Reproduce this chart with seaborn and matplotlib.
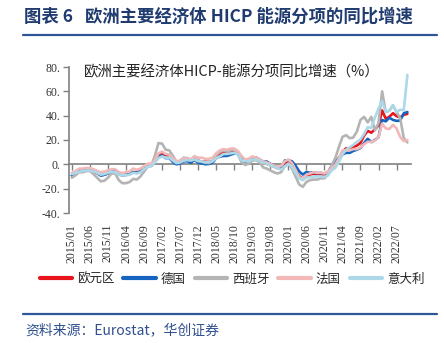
import numpy as np
import pandas as pd
import matplotlib
matplotlib.use("Agg")
import matplotlib.pyplot as plt
from matplotlib.lines import Line2D
import seaborn as sns

# ---------------- data ----------------
months = [f"{y}/{m:02d}" for y in range(2015, 2023) for m in range(1, 13)][:94]  # 2015/01 .. 2022/10
tick_labels = months[::5]

series_names = ["欧元区", "德国", "西班牙", "法国", "意大利"]

euro_area = [
    -9.3, -7.9, -5.8, -5.8, -5.1, -5.1, -6.1, -7.2, -8.9, -8.5, -7.3, -5.8,
    -5.4, -8.1, -8.7, -8.7, -8.1, -6.4, -6.7, -5.6, -3.0, -0.9, -1.1, 2.6,
    8.1, 9.3, 7.4, 7.6, 4.5, 1.9, 2.2, 4.0, 3.9, 3.0, 4.7, 2.9,
    2.2, 2.1, 2.0, 2.6, 6.1, 8.0, 9.5, 9.2, 9.5, 10.7, 9.1, 5.5,
    2.7, 3.6, 5.3, 5.3, 3.8, 0.9, 0.5, -0.6, -1.8, -3.1, -3.2, 0.2,
    1.9, -0.3, -4.5, -9.7, -11.9, -9.3, -8.4, -7.8, -8.2, -8.2, -8.3, -6.9,
    -4.2, -1.7, 4.3, 10.4, 13.1, 12.6, 14.3, 15.4, 17.6, 23.7, 27.5, 26.0,
    28.8, 32.0, 44.3, 37.5, 39.1, 42.0, 39.6, 38.6, 40.7, 41.5,
]
germany = [
    -9.0, -6.5, -4.5, -4.0, -3.5, -3.5, -5.0, -7.0, -9.3, -8.6, -7.5, -5.5,
    -5.6, -8.5, -8.9, -8.5, -7.9, -6.4, -7.0, -5.9, -3.6, -1.4, -1.3, 2.5,
    5.9, 7.2, 5.1, 5.2, 1.9, 0.0, 0.7, 2.4, 2.6, 1.3, 3.6, 1.3,
    0.8, 0.1, 0.3, 1.3, 5.2, 6.3, 6.9, 6.9, 7.9, 8.9, 9.0, 4.6,
    2.0, 2.8, 4.4, 5.6, 3.7, 2.3, 2.3, 0.5, -1.1, -2.2, -3.7, 3.1,
    3.3, 2.5, -1.0, -5.8, -8.4, -6.3, -6.9, -6.6, -7.2, -7.1, -7.5, -6.3,
    -1.5, 1.5, 5.5, 8.0, 9.5, 9.4, 11.0, 12.0, 13.5, 17.5, 21.0, 18.3,
    20.0, 22.4, 36.5, 35.3, 38.3, 36.5, 35.7, 36.0, 42.0, 43.0,
]
spain = [
    -11.0, -9.0, -6.5, -6.5, -5.5, -5.5, -8.0, -11.0, -14.0, -13.5, -11.0, -7.5,
    -7.5, -13.0, -15.5, -15.5, -14.5, -12.0, -12.5, -10.0, -6.0, -2.0, -1.0, 7.0,
    17.5, 17.0, 12.0, 11.5, 7.0, 2.0, 3.0, 5.5, 5.0, 4.0, 6.5, 3.5,
    2.0, 1.5, 1.0, 2.5, 7.5, 10.0, 11.5, 10.5, 11.5, 12.0, 8.0, 2.0,
    -0.5, 0.5, 3.0, 3.5, 2.0, -2.5, -3.5, -5.0, -6.5, -7.5, -6.5, -1.5,
    0.5, -3.5, -10.0, -16.5, -18.5, -14.5, -13.0, -12.5, -12.5, -11.5, -11.5, -8.5,
    -1.0, 5.0, 14.0, 22.5, 24.0, 21.5, 22.0, 27.0, 36.5, 39.0, 34.5, 39.0,
    28.0, 34.0, 60.0, 43.0, 44.0, 48.5, 43.0, 38.0, 21.5, 18.0,
]
france = [
    -7.0, -5.5, -3.5, -3.5, -3.0, -3.0, -4.0, -5.5, -6.5, -6.0, -5.0, -4.0,
    -4.0, -6.5, -7.0, -6.5, -5.8, -3.5, -4.5, -3.5, -1.5, 0.5, 0.5, 3.5,
    9.0, 10.5, 8.5, 8.0, 5.0, 2.5, 3.0, 5.0, 4.5, 4.0, 6.5, 5.5,
    5.5, 4.5, 4.5, 5.5, 9.0, 11.5, 12.5, 12.0, 13.0, 13.0, 11.0, 7.0,
    4.0, 4.5, 6.5, 5.5, 4.5, 2.5, 1.5, 0.5, -1.0, -2.0, -1.5, 2.5,
    4.0, 1.0, -4.5, -10.5, -12.0, -8.5, -7.5, -6.5, -7.0, -7.0, -7.5, -6.0,
    -3.0, -0.5, 5.0, 11.5, 11.5, 11.5, 12.5, 12.5, 14.0, 16.5, 18.5, 18.5,
    19.5, 22.5, 33.5, 29.5, 29.0, 32.5, 29.5, 22.5, 19.0, 20.0,
]
italy = [
    -8.0, -7.0, -6.0, -5.5, -5.0, -5.0, -6.0, -7.0, -8.5, -8.0, -7.0, -6.0,
    -6.5, -8.5, -9.0, -9.0, -8.5, -7.0, -7.5, -6.5, -4.0, -2.0, -1.5, 1.5,
    5.0, 6.5, 5.5, 5.5, 3.0, 1.0, 1.5, 3.0, 3.5, 3.0, 4.0, 2.5,
    2.5, 1.5, 2.0, 2.5, 5.0, 6.5, 8.5, 8.5, 9.0, 9.5, 8.0, 3.5,
    2.5, 2.5, 4.0, 4.0, 3.0, 1.0, 0.5, -1.0, -2.0, -3.0, -4.5, -2.0,
    0.5, -2.0, -7.0, -11.5, -13.0, -11.0, -10.5, -10.0, -10.0, -10.0, -10.5, -9.0,
    -5.0, -3.0, 2.0, 8.0, 12.0, 14.0, 16.0, 18.5, 20.5, 25.0, 30.5, 30.0,
    38.5, 45.9, 52.0, 43.0, 44.0, 48.7, 43.0, 44.9, 44.5, 73.5,
]
values = [euro_area, germany, spain, france, italy]
colors = ["#e8141c", "#1565c0", "#b4b4b4", "#f2b8b8", "#acd8e8"]
y_ticks = [-40, -20, 0, 20, 40, 60, 80]

# ---------------- build frame ----------------
df = pd.concat(
    [pd.DataFrame({"idx": np.arange(len(v)), "value": v, "series": n})
     for n, v in zip(series_names, values)],
    ignore_index=True,
)

sns.set_theme(style="white")
plt.rcParams["font.family"] = ["Noto Sans CJK SC", "DejaVu Sans"]
plt.rcParams["axes.unicode_minus"] = False

fig = plt.figure(figsize=(4.44, 3.43), dpi=100, facecolor="white")
ax = fig.add_axes([69 / 444, 1 - 213 / 343, 342 / 444, 146 / 343])

sns.lineplot(data=df, x="idx", y="value", hue="series", hue_order=series_names,
             palette=colors, linewidth=1.9, ax=ax, legend=True)

ax.set_xlim(-0.8, 94)
ax.set_ylim(-40, 80)
ax.set_xlabel("")
ax.set_ylabel("")

# y axis
ax.set_yticks(y_ticks)
ax.set_yticklabels([f"{v}." for v in y_ticks], fontname="Liberation Serif", fontsize=8.5, color="#333333")
ax.tick_params(axis="y", direction="out", length=4, width=1, color="#808080", pad=2, left=True)
for s in ["top", "right", "bottom"]:
    ax.spines[s].set_visible(False)
ax.spines["left"].set_color("#808080")
ax.spines["left"].set_linewidth(1.2)

# x tick labels at bottom
tick_pos = list(range(0, len(months), 5))
ax.set_xticks(tick_pos)
ax.set_xticklabels(tick_labels, rotation=90, fontname="Liberation Serif", fontsize=8.5, color="#333333")
ax.tick_params(axis="x", length=0, pad=8, bottom=True)

# zero line axis with ticks
sec = ax.secondary_xaxis(40 / 120)
sec.set_xticks(tick_pos)
sec.set_xticklabels([""] * len(tick_pos))
sec.tick_params(axis="x", direction="out", length=4, width=1, color="#808080")
sec.spines["bottom"].set_color("#808080")
sec.spines["bottom"].set_linewidth(1.2)
for s in ["top", "left", "right"]:
    if s in sec.spines:
        sec.spines[s].set_visible(False)

# chart inner title
fig.text(84 / 444, 1 - 72 / 343, "欧洲主要经济体HICP-能源分项同比增速（%）",
         fontsize=10.4, color="#222222", va="center", ha="left")

# legend
handles, labels = ax.get_legend_handles_labels()
ax.get_legend().remove()
leg = fig.legend(handles, labels, loc="center", bbox_to_anchor=(232 / 444, 1 - 279 / 343),
                 ncol=5, frameon=False, fontsize=9, handlelength=2.6, handletextpad=0.4,
                 columnspacing=0.7)
for h in leg.get_lines():
    h.set_linewidth(3)

# header
fig.text(24 / 444, 1 - 17 / 343, "图表 6   欧洲主要经济体 HICP 能源分项的同比增速",
         fontsize=12.5, weight="bold", color="#1f3b70", va="center", ha="left")
fig.add_artist(Line2D([23 / 444, 437 / 444], [1 - 34.5 / 343] * 2, color="#2f5597", lw=1.6))

# footer
fig.add_artist(Line2D([23 / 444, 437 / 444], [1 - 313.5 / 343] * 2, color="#2f5597", lw=1.6))
fig.text(25 / 444, 1 - 330 / 343, "资料来源：Eurostat，华创证券",
         fontsize=10, style="italic", color="#2f4f8f", va="center", ha="left")

fig.savefig("out.png", dpi=100, facecolor="white")
